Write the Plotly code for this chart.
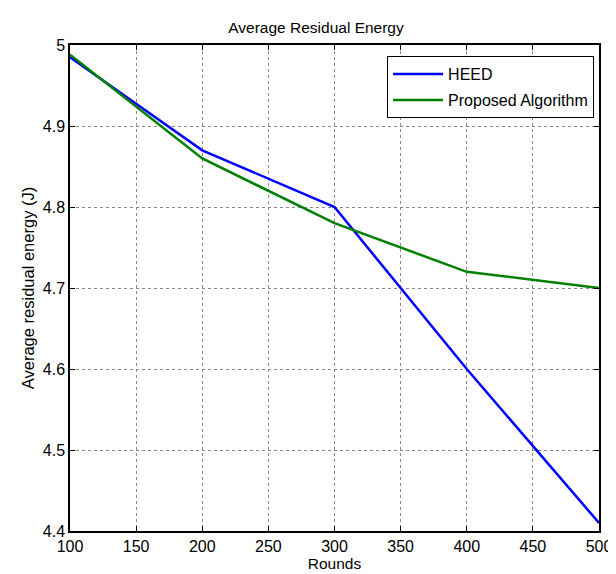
import plotly.graph_objects as go

rounds = [100, 200, 300, 400, 500]
heed = [4.985, 4.87, 4.80, 4.60, 4.41]
proposed = [4.988, 4.86, 4.78, 4.72, 4.70]

x_ticks = [100, 150, 200, 250, 300, 350, 400, 450, 500]
y_ticks = [4.4, 4.5, 4.6, 4.7, 4.8, 4.9, 5.0]
y_tick_text = ["4.4", "4.5", "4.6", "4.7", "4.8", "4.9", "5"]

font_family = "Liberation Sans, Arial, sans-serif"

fig = go.Figure()
fig.add_trace(go.Scatter(x=rounds, y=heed, mode="lines", name="HEED", legendgroup="a",
                         line=dict(color="#0000ff", width=2.5)))
fig.add_trace(go.Scatter(x=rounds, y=proposed, mode="lines", name="Proposed Algorithm", legendgroup="b",
                         line=dict(color="#008000", width=2.5)))

axis_common = dict(
    showline=True, linecolor="black", linewidth=1.5, mirror="ticks",
    ticks="inside", ticklen=5, tickcolor="black",
    showgrid=True, gridcolor="#8a8a8a", gridwidth=1, griddash="dot",
    zeroline=False, tickfont=dict(size=16, color="black", family=font_family),
)

fig.update_xaxes(range=[100, 500], tickvals=x_ticks,
                 title=dict(text="Rounds", font=dict(size=15.5, color="black", family=font_family), standoff=3),
                 **axis_common)
fig.update_yaxes(range=[4.4, 5.0], tickvals=y_ticks, ticktext=y_tick_text,
                 title=dict(text="Average residual energy (J)", font=dict(size=16.5, color="black", family=font_family), standoff=4),
                 **axis_common)

fig.update_layout(
    width=616, height=574,
    margin=dict(l=62, r=14, t=37, b=51),
    paper_bgcolor="white", plot_bgcolor="white",
    title=dict(text="Average Residual Energy", x=0.5, xanchor="center", y=1 - 20 / 574, yanchor="middle",
               font=dict(size=15.5, color="black", family=font_family)),
    font=dict(family=font_family, color="black"),
    legend=dict(x=0.9907, xanchor="right", y=0.977, yanchor="top",
                bordercolor="black", borderwidth=1, bgcolor="white",
                font=dict(size=16, color="black", family=font_family),
                tracegroupgap=2, itemwidth=50),
    showlegend=True,
)

fig.write_html("out.html")
